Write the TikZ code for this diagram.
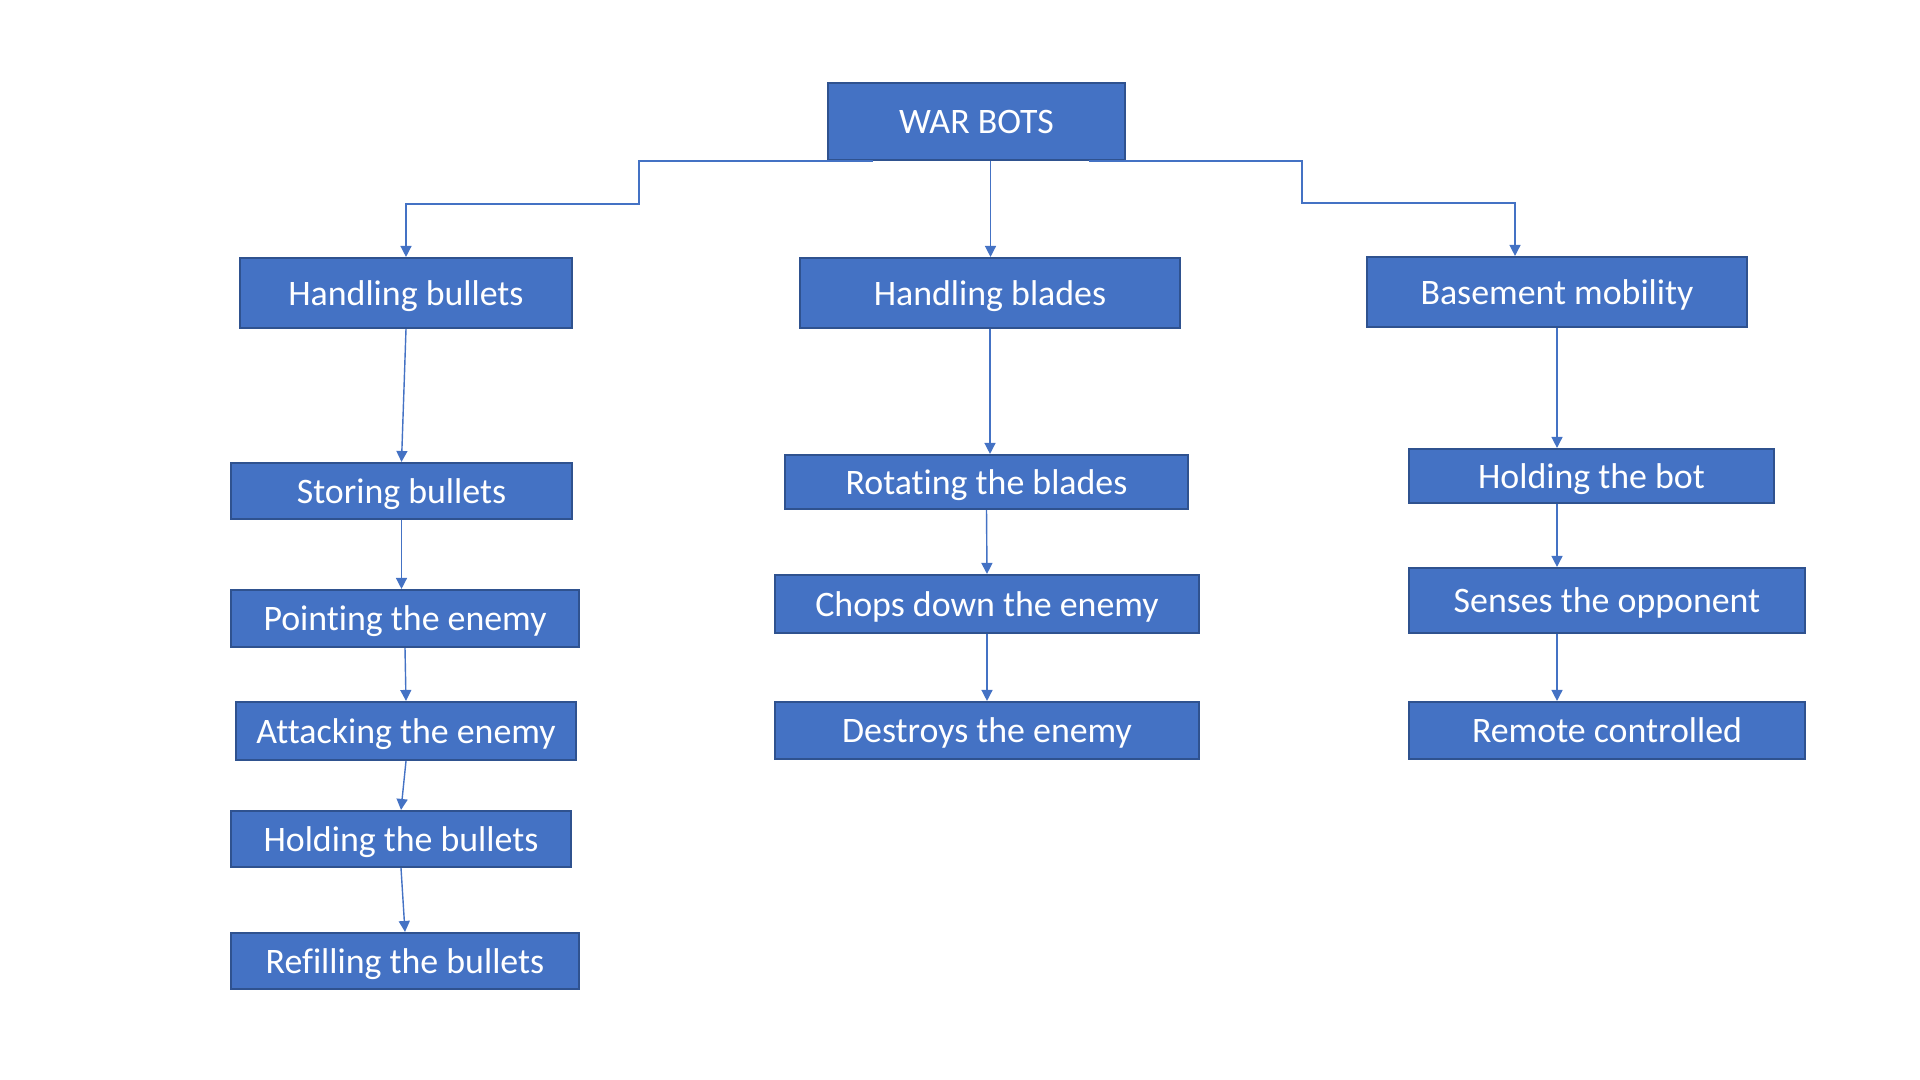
\documentclass[tikz,border=0pt]{standalone}
\usepackage{fontspec}
\setmainfont{Carlito}[Ligatures=NoCommon]
\usepackage{tikz}
\usetikzlibrary{arrows.meta}

\definecolor{boxblue}{HTML}{4472C4}
\definecolor{boxedge}{HTML}{2F528F}

\begin{document}
\begin{tikzpicture}[
				every node/.style={font=\fontsize{10.2}{12}\selectfont},
				box/.style={
					draw=boxedge,
					fill=boxblue,
					text=white,
					align=center,
					inner sep=0pt,
					text height=0.7em,
					text depth=0pt,
					line width=0.6pt
				},
				arrow/.style={
					-{Triangle[length=1.1mm,width=1.1mm]},
					draw=boxblue,
					line width=0.4pt
				}
				]
				\useasboundingbox (0,0) rectangle (19.2,-10.8);
				
				\node[box,minimum width=2.97cm,minimum height=0.77cm] (war) at (9.765,-1.215) {WAR BOTS};
				
				\node[box,minimum width=3.32cm,minimum height=0.70cm] (hbul) at (4.06,-2.93) {Handling bullets};
				\node[box,minimum width=3.80cm,minimum height=0.70cm] (hbla) at (9.90,-2.93) {Handling blades};
				\node[box,minimum width=3.80cm,minimum height=0.70cm] (bmob) at (15.57,-2.92) {Basement mobility};
				
				\node[box,minimum width=3.41cm,minimum height=0.56cm] (stor) at (4.015,-4.91) {Storing bullets};
				\node[box,minimum width=3.48cm,minimum height=0.57cm] (point) at (4.05,-6.185) {Pointing the enemy};
				\node[box,minimum width=3.40cm,minimum height=0.58cm] (att) at (4.06,-7.31) {Attacking the enemy};
				\node[box,minimum width=3.40cm,minimum height=0.56cm] (holdb) at (4.01,-8.39) {Holding the bullets};
				\node[box,minimum width=3.48cm,minimum height=0.56cm] (refill) at (4.05,-9.61) {Refilling the bullets};
				
				\node[box,minimum width=4.03cm,minimum height=0.54cm] (rot) at (9.865,-4.82) {Rotating the blades};
				\node[box,minimum width=4.24cm,minimum height=0.58cm] (chops) at (9.87,-6.04) {Chops down the enemy};
				\node[box,minimum width=4.24cm,minimum height=0.57cm] (destr) at (9.87,-7.305) {Destroys the enemy};
				
				\node[box,minimum width=3.65cm,minimum height=0.54cm] (hbot) at (15.915,-4.76) {Holding the bot};
				\node[box,minimum width=3.96cm,minimum height=0.65cm] (senses) at (16.07,-6.005) {Senses the opponent};
				\node[box,minimum width=3.96cm,minimum height=0.57cm] (remote) at (16.07,-7.305) {Remote controlled};
				
				\draw[arrow] ([xshift=-1.04cm]war.south) -| (6.39,-2.04) -| (hbul.north);
				\draw[arrow] ([xshift=0.14cm]war.south) -- ([xshift=0.14cm]war.south |- hbla.north);
				\draw[arrow] ([xshift=1.12cm]war.south) -| (13.02,-2.03) -| ([xshift=-0.42cm]bmob.north);
				
				\draw[arrow] (hbul.south) -- (stor.north);
				\draw[arrow] (stor.south) -- (stor.south |- point.north);
				\draw[arrow] (point.south) -- (att.north);
				\draw[arrow] (att.south) -- (holdb.north);
				\draw[arrow] (holdb.south) -- (refill.north);
				
				\draw[arrow] (hbla.south) -- (hbla.south |- rot.north);
				\draw[arrow] (rot.south) -- (chops.north);
				\draw[arrow] (chops.south) -- (destr.north);
				
				\draw[arrow] (bmob.south) -- (bmob.south |- hbot.north);
				\draw[arrow] (hbot.south -| bmob.south) -- (senses.north -| bmob.south);
				\draw[arrow] (senses.south -| bmob.south) -- (remote.north -| bmob.south);
			\end{tikzpicture}
\end{document}
